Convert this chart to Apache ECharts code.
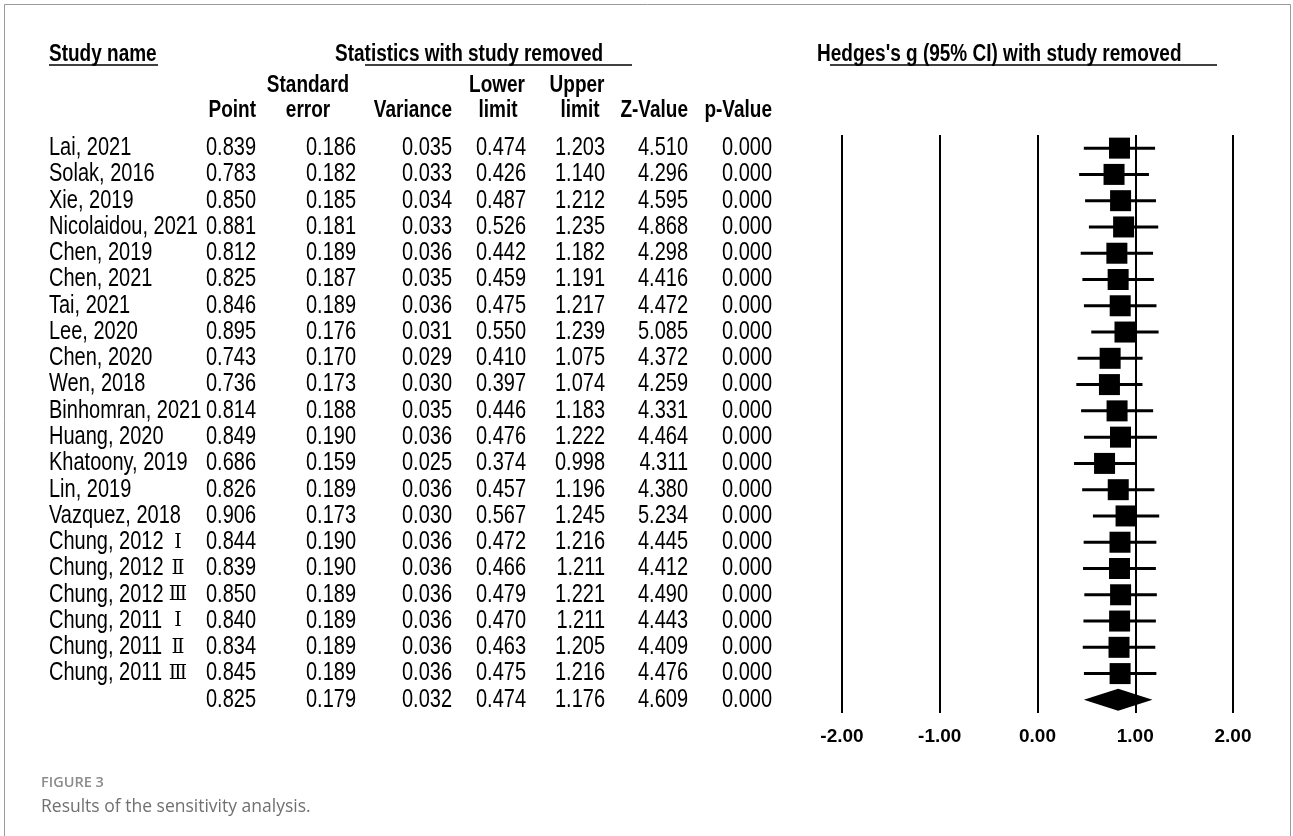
<!DOCTYPE html>
<html>
<head>
<meta charset="utf-8">
<title>Sensitivity analysis</title>
<script src="https://cdn.jsdelivr.net/npm/echarts@6/dist/echarts.min.js"></script>
<style>
  html, body { margin: 0; padding: 0; background: #fff; }
  #chart { width: 1293px; height: 836px; }
</style>
</head>
<body>
<div id="chart"></div>
<script>
// ---- data ----
const studyNames = [
  "Lai, 2021", "Solak, 2016", "Xie, 2019", "Nicolaidou, 2021", "Chen, 2019", "Chen, 2021",
  "Tai, 2021", "Lee, 2020", "Chen, 2020", "Wen, 2018", "Binhomran, 2021", "Huang, 2020",
  "Khatoony, 2019", "Lin, 2019", "Vazquez, 2018", "Chung, 2012 Ⅰ", "Chung, 2012 Ⅱ",
  "Chung, 2012 Ⅲ", "Chung, 2011 Ⅰ", "Chung, 2011 Ⅱ", "Chung, 2011 Ⅲ",
];
const points = [0.839, 0.783, 0.850, 0.881, 0.812, 0.825, 0.846, 0.895, 0.743, 0.736, 0.814, 0.849, 0.686, 0.826, 0.906, 0.844, 0.839, 0.850, 0.840, 0.834, 0.845];
const stdErrors = [0.186, 0.182, 0.185, 0.181, 0.189, 0.187, 0.189, 0.176, 0.170, 0.173, 0.188, 0.190, 0.159, 0.189, 0.173, 0.190, 0.190, 0.189, 0.189, 0.189, 0.189];
const variances = [0.035, 0.033, 0.034, 0.033, 0.036, 0.035, 0.036, 0.031, 0.029, 0.030, 0.035, 0.036, 0.025, 0.036, 0.030, 0.036, 0.036, 0.036, 0.036, 0.036, 0.036];
const lowerLimits = [0.474, 0.426, 0.487, 0.526, 0.442, 0.459, 0.475, 0.550, 0.410, 0.397, 0.446, 0.476, 0.374, 0.457, 0.567, 0.472, 0.466, 0.479, 0.470, 0.463, 0.475];
const upperLimits = [1.203, 1.140, 1.212, 1.235, 1.182, 1.191, 1.217, 1.239, 1.075, 1.074, 1.183, 1.222, 0.998, 1.196, 1.245, 1.216, 1.211, 1.221, 1.211, 1.205, 1.216];
const zValues = [4.510, 4.296, 4.595, 4.868, 4.298, 4.416, 4.472, 5.085, 4.372, 4.259, 4.331, 4.464, 4.311, 4.380, 5.234, 4.445, 4.412, 4.490, 4.443, 4.409, 4.476];
const pValues = [0.000, 0.000, 0.000, 0.000, 0.000, 0.000, 0.000, 0.000, 0.000, 0.000, 0.000, 0.000, 0.000, 0.000, 0.000, 0.000, 0.000, 0.000, 0.000, 0.000, 0.000];
// overall: point, SE, variance, lower, upper, Z, p
const overallStats = [0.825, 0.179, 0.032, 0.474, 1.176, 4.609, 0.000];
const axisTicks = [-2, -1, 0, 1, 2];

// ---- layout ----
const FONT = '"Liberation Sans", Arial, sans-serif';
const DATA_FONT = "20px " + FONT;
const HEAD_FONT = "bold 19px " + FONT;
const NUMERAL_FONT = '19px "DejaVu Serif", "Noto Sans CJK SC", serif';
const STRETCH = 1.25; // 原图文字纵向偏高
const COL_RIGHT = [256, 356, 452, 526, 605, 688, 772];
const NAME_X = 49;
const NUMERAL_X = 178;
const GRID_TOP = 135;
const GRID_BOTTOM = 123;
const BOX_SIZE = 21;
const DIAMOND_HALF = 11;

const nRows = studyNames.length + 1;
const rowKeys = Array.from({ length: nRows }, (_, i) => String(i));
const statCols = [points, stdErrors, variances, lowerLimits, upperLimits, zValues, pValues];

const chart = echarts.init(document.getElementById("chart"), null, { renderer: "canvas" });

const txt = (text, x, y, font, align, extra, scaleY) => ({
  type: "text",
  x,
  y,
  scaleY: scaleY || 1,
  style: Object.assign({ text, font, fill: "#000", align: align || "left", verticalAlign: "middle" }, extra || {}),
});
const hline = (x1, x2, y, color, w) => ({
  type: "line",
  shape: { x1, y1: y, x2, y2: y },
  style: { stroke: color || "#000", lineWidth: w || 1.5 },
});

/** 表格一行：研究名 + 7 列统计量 */
function renderTableRow(params, api) {
  const row = api.value(1);
  const y = api.coord([0, row])[1];
  const isStudy = row < studyNames.length;
  const vals = isStudy ? statCols.map((c) => c[row]) : overallStats;
  const children = vals.map((v, j) => txt(v.toFixed(3), COL_RIGHT[j], y, DATA_FONT, "right", null, STRETCH));
  if (isStudy) {
    const m = studyNames[row].match(/^(.*?)\s*([ⅠⅡⅢ])$/);
    if (m) {
      children.push(txt(m[1], NAME_X, y, DATA_FONT, "left", null, STRETCH));
      children.push(txt(m[2], NUMERAL_X, y, NUMERAL_FONT, "center", null, 1.1));
    } else {
      children.push(txt(studyNames[row], NAME_X, y, DATA_FONT, "left", null, STRETCH));
    }
  }
  return { type: "group", children };
}

function renderWhisker(params, api) {
  const row = api.value(2);
  const a = api.coord([api.value(0), row]);
  const b = api.coord([api.value(1), row]);
  return { type: "line", shape: { x1: a[0], y1: a[1], x2: b[0], y2: b[1] }, style: { stroke: "#000", lineWidth: 3 } };
}

function renderDiamond(params, api) {
  const row = api.value(3);
  const lo = api.coord([api.value(0), row]);
  const mid = api.coord([api.value(1), row]);
  const hi = api.coord([api.value(2), row]);
  return {
    type: "polygon",
    shape: { points: [[lo[0], lo[1]], [mid[0], mid[1] - DIAMOND_HALF], [hi[0], hi[1]], [mid[0], mid[1] + DIAMOND_HALF]] },
    style: { fill: "#000" },
  };
}

const head = (text, x, y, align) => txt(text, x, y, HEAD_FONT, align, null, STRETCH);

const option = {
  animation: false,
  backgroundColor: "#fff",
  grid: [
    { left: 842, right: 60, top: GRID_TOP, bottom: GRID_BOTTOM },
    { left: 0, right: 0, top: GRID_TOP, bottom: GRID_BOTTOM },
  ],
  xAxis: [
    {
      gridIndex: 0,
      type: "value",
      min: axisTicks[0],
      max: axisTicks[axisTicks.length - 1],
      interval: 1,
      axisLine: { show: false },
      axisTick: { show: false },
      splitLine: { show: true, lineStyle: { color: "#000", width: 2 } },
      axisLabel: {
        margin: 14,
        color: "#000",
        fontFamily: FONT,
        fontWeight: "bold",
        fontSize: 19,
        formatter: (v) => v.toFixed(2),
      },
    },
    { gridIndex: 1, type: "value", min: 0, max: 1293, show: false },
  ],
  yAxis: [
    { gridIndex: 0, type: "category", data: rowKeys, inverse: true, show: false },
    { gridIndex: 1, type: "category", data: rowKeys, inverse: true, show: false },
  ],
  series: [
    {
      type: "custom",
      xAxisIndex: 1,
      yAxisIndex: 1,
      clip: false,
      renderItem: renderTableRow,
      encode: { x: 0, y: 1 },
      data: rowKeys.map((k, i) => [0, i]),
    },
    {
      type: "custom",
      xAxisIndex: 0,
      yAxisIndex: 0,
      renderItem: renderWhisker,
      encode: { x: [0, 1], y: 2 },
      data: studyNames.map((n, i) => [lowerLimits[i], upperLimits[i], i]),
      z: 2,
    },
    {
      type: "scatter",
      xAxisIndex: 0,
      yAxisIndex: 0,
      symbol: "rect",
      symbolSize: BOX_SIZE,
      itemStyle: { color: "#000", opacity: 1 },
      data: studyNames.map((n, i) => [points[i], i]),
      z: 3,
    },
    {
      type: "custom",
      xAxisIndex: 0,
      yAxisIndex: 0,
      renderItem: renderDiamond,
      encode: { x: [0, 1, 2], y: 3 },
      data: [[overallStats[3], overallStats[0], overallStats[4], studyNames.length]],
      z: 3,
    },
  ],
  graphic: [
    // 外框
    { type: "rect", shape: { x: 4.5, y: 4.5, width: 1286, height: 900 }, style: { fill: "none", stroke: "#9a9a9a", lineWidth: 1 } },
    // 标题行
    head("Study name", NAME_X, 54),
    hline(NAME_X, 158, 65),
    head("Statistics with study removed", 335, 54),
    hline(365, 632, 65),
    head("Hedges's g (95% CI) with study removed", 817, 54),
    hline(830, 1217, 65),
    // 列标题
    head("Point", 256, 110, "right"),
    head("Standard", 308, 85, "center"),
    head("error", 308, 110, "center"),
    head("Variance", 452, 110, "right"),
    head("Lower", 497, 85, "center"),
    head("limit", 498, 110, "center"),
    head("Upper", 577, 85, "center"),
    head("limit", 580, 110, "center"),
    head("Z-Value", 688, 110, "right"),
    head("p-Value", 772, 110, "right"),
    // 图注
    txt("FIGURE 3", 41, 783, '600 14.5px "Open Sans", sans-serif', "left", { fill: "#8c8c8c" }),
    txt("Results of the sensitivity analysis.", 41, 807, '17.5px "Open Sans", sans-serif', "left", { fill: "#707070" }),
  ],
};

chart.setOption(option);
</script>
</body>
</html>
